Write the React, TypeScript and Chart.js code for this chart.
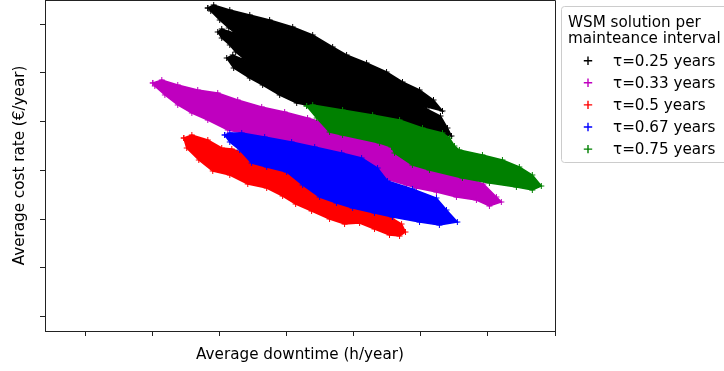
import { useEffect, useRef } from "react";
import { Chart, registerables } from "chart.js";

Chart.register(...registerables);

type Pt = [number, number];

// Axis limits and tick positions (downtime in h/year, cost rate in €/year)
const X_MIN = 1.97;
const X_MAX = 40;
const Y_MIN = 707;
const Y_MAX = 7492;
const xTickValues = [5, 10, 15, 20, 25, 30, 35, 40];
const yTickValues = [1000, 2000, 3000, 4000, 5000, 6000, 7000];

const legendTitle = ["WSM solution per", "mainteance interval"];
const seriesLabels = ["τ=0.25 years", "τ=0.33 years", "τ=0.5 years", "τ=0.67 years", "τ=0.75 years"];
const seriesColors = ["#000000", "#bf00bf", "#ff0000", "#0000ff", "#008000"];

// Outline of each cloud of WSM solutions: [downtime, cost rate]
const tau025: Pt[] = [
  [14.11, 7328], [14.55, 7390], [15.75, 7287], [17.24, 7185], [18.72, 7082], [20.44, 6939],
  [21.93, 6775], [23.42, 6529], [24.46, 6365], [25.95, 6201], [27.44, 6016], [28.63, 5811],
  [29.9, 5647], [30.94, 5442], [31.61, 5217], [30.19, 5319], [30.42, 5258], [31.46, 5114],
  [31.98, 4868], [32.28, 4704], [31.38, 4745], [29.9, 4868], [26.92, 5073], [23.94, 5237],
  [21.48, 5340], [20.74, 5381], [19.47, 5545], [18.2, 5750], [17.24, 5893], [16.04, 6098],
  [15.52, 6303], [15.97, 6365], [17.01, 6242], [16.19, 6426], [15.75, 6570], [15.15, 6713],
  [14.85, 6836], [15.15, 6898], [16.27, 6795], [15.67, 6918], [15.0, 7082], [14.33, 7267],
];

const tau033: Pt[] = [
  [10.01, 5791], [10.68, 5852], [11.87, 5750], [13.36, 5647], [14.85, 5586], [16.34, 5442],
  [18.13, 5299], [19.84, 5196], [21.55, 5073], [22.82, 4971], [25.43, 4786], [28.41, 4458],
  [31.38, 4007], [33.62, 3823], [34.66, 3720], [35.63, 3454], [36.0, 3351], [35.11, 3269],
  [34.14, 3392], [32.65, 3454], [31.16, 3556], [29.67, 3638], [28.93, 3700], [27.66, 3802],
  [26.17, 4007], [23.94, 4253], [20.96, 4479], [18.58, 4643], [17.09, 4745], [15.6, 4827],
  [14.11, 5032], [12.92, 5176], [11.87, 5340], [10.91, 5545], [10.16, 5729],
];

const tau050: Pt[] = [
  [12.32, 4663], [12.92, 4725], [14.11, 4622], [15.15, 4458], [15.9, 4438], [17.24, 4315],
  [19.47, 4048], [21.7, 3700], [23.94, 3392], [26.54, 3167], [27.81, 3023], [28.56, 2900],
  [28.85, 2736], [28.41, 2654], [27.66, 2675], [26.54, 2798], [25.43, 2921], [24.31, 2900],
  [23.19, 3003], [21.85, 3167], [20.66, 3310], [19.69, 3474], [18.5, 3638], [17.09, 3720],
  [15.75, 3905], [14.48, 3987], [13.44, 4212], [12.54, 4458],
];

const tau067: Pt[] = [
  [15.37, 4725], [15.75, 4766], [16.64, 4766], [18.35, 4684], [20.36, 4581], [22.08, 4479],
  [24.09, 4356], [25.58, 4253], [26.77, 4048], [27.51, 3782], [29.37, 3618], [31.16, 3433],
  [31.91, 3187], [32.72, 2941], [31.38, 2880], [29.9, 2941], [27.88, 3044], [26.54, 3126],
  [24.91, 3228], [23.71, 3331], [22.45, 3454], [21.18, 3700], [19.99, 3966], [18.5, 4069],
  [17.38, 4151], [16.49, 4417], [15.75, 4581],
];

const tau075: Pt[] = [
  [21.48, 5319], [21.93, 5340], [24.16, 5237], [26.4, 5135], [28.41, 5032], [30.12, 4868],
  [31.61, 4766], [32.13, 4663], [32.5, 4499], [32.87, 4417], [34.59, 4315], [36.08, 4212],
  [37.34, 4069], [38.31, 3905], [38.98, 3679], [38.31, 3597], [37.12, 3659], [35.11, 3741],
  [33.1, 3843], [30.64, 4007], [29.37, 4110], [28.03, 4356], [27.81, 4479], [26.92, 4561],
  [24.16, 4725], [23.19, 4786], [22.23, 5073],
];

const clouds: Pt[][] = [tau025, tau033, tau050, tau067, tau075];

const FONT_FAMILY = "DejaVu Sans";
const FONT_SIZE = 15.2;
const AXIS_COLOR = "#222222";

// Top and right edges of the plot frame (left and bottom come from the axes)
const plotFrame = {
  id: "plotFrame",
  afterDatasetsDraw(chart: Chart) {
    const { ctx, chartArea } = chart;
    const l = Math.round(chartArea.left) + 0.5;
    const r = Math.round(chartArea.right) + 0.5;
    const t = Math.round(chartArea.top) + 0.5;
    const b = Math.round(chartArea.bottom) + 0.5;
    ctx.save();
    ctx.strokeStyle = AXIS_COLOR;
    ctx.lineWidth = 1;
    ctx.beginPath();
    ctx.moveTo(l, t);
    ctx.lineTo(r, t);
    ctx.lineTo(r, b);
    ctx.stroke();
    ctx.restore();
  },
};

// Framed legend with a two-line title, drawn inside the canvas to the right of the plot
const intervalLegend = {
  id: "intervalLegend",
  afterDraw(chart: Chart) {
    const ctx = chart.ctx;
    const left = chart.chartArea.right + 6.5;
    const top = 6.5;
    ctx.save();
    ctx.beginPath();
    ctx.roundRect(left, top, 180, 156, 3);
    ctx.fillStyle = "rgba(255,255,255,0.8)";
    ctx.fill();
    ctx.strokeStyle = "#cccccc";
    ctx.lineWidth = 1;
    ctx.stroke();

    ctx.font = `${FONT_SIZE}px "${FONT_FAMILY}"`;
    ctx.fillStyle = "#000000";
    ctx.textAlign = "left";
    ctx.textBaseline = "alphabetic";
    legendTitle.forEach((line, i) => ctx.fillText(line, left + 6.5, 26.7 + i * 16.2));

    chart.data.datasets.forEach((ds, i) => {
      const cy = 60.7 + i * 22.1;
      const cx = left + 26.5;
      ctx.strokeStyle = seriesColors[i];
      ctx.lineWidth = 1.4;
      ctx.beginPath();
      ctx.moveTo(cx - 4.2, cy);
      ctx.lineTo(cx + 4.2, cy);
      ctx.moveTo(cx, cy - 4.2);
      ctx.lineTo(cx, cy + 4.2);
      ctx.stroke();
      ctx.fillStyle = "#000000";
      ctx.fillText(String(ds.label), left + 51.5, cy + 5.2);
    });
    ctx.restore();
  },
};

export default function App() {
  const canvasRef = useRef<HTMLCanvasElement | null>(null);

  useEffect(() => {
    const canvas = canvasRef.current;
    if (!canvas) return;
    Chart.defaults.color = "#000000";

    const chart = new Chart(canvas, {
      type: "line",
      data: {
        datasets: clouds.map((pts, i) => ({
          label: seriesLabels[i],
          data: [...pts, pts[0]].map(([x, y]) => ({ x, y })),
          borderColor: seriesColors[i],
          backgroundColor: seriesColors[i],
          pointBorderColor: seriesColors[i],
          pointBackgroundColor: seriesColors[i],
          borderWidth: 1.5,
          pointStyle: "cross",
          pointRadius: 3,
          pointHoverRadius: 3,
          pointBorderWidth: 1,
          fill: "shape",
          tension: 0,
          order: clouds.length - i,
        })),
      },
      options: {
        responsive: false,
        animation: false,
        events: [],
        layout: { autoPadding: false, padding: { left: 0, right: 169, top: 0, bottom: 0 } },
        plugins: {
          legend: { display: false },
          tooltip: { enabled: false },
        },
        scales: {
          x: {
            type: "linear",
            position: "bottom",
            min: X_MIN,
            max: X_MAX,
            ticks: { display: false },
            afterBuildTicks: (s: any) => {
              s.ticks = xTickValues.map((value) => ({ value }));
            },
            grid: {
              display: true,
              drawOnChartArea: false,
              drawTicks: true,
              tickLength: 5,
              color: AXIS_COLOR,
              lineWidth: 1,
            },
            border: { display: true, color: AXIS_COLOR, width: 1 },
            title: {
              display: true,
              text: "Average downtime (h/year)",
              color: "#000000",
              font: { family: FONT_FAMILY, size: FONT_SIZE },
              padding: { top: 0, bottom: 6.9 },
            },
            afterFit: (s: any) => {
              s.height = 40;
            },
          },
          y: {
            type: "linear",
            position: "left",
            min: Y_MIN,
            max: Y_MAX,
            ticks: { display: false },
            afterBuildTicks: (s: any) => {
              s.ticks = yTickValues.map((value) => ({ value }));
            },
            grid: {
              display: true,
              drawOnChartArea: false,
              drawTicks: true,
              tickLength: 5,
              color: AXIS_COLOR,
              lineWidth: 1,
            },
            border: { display: true, color: AXIS_COLOR, width: 1 },
            title: {
              display: true,
              text: "Average cost rate (€/year)",
              color: "#000000",
              font: { family: FONT_FAMILY, size: FONT_SIZE },
              padding: { top: 10.9, bottom: 0 },
            },
            afterFit: (s: any) => {
              s.width = 45;
            },
          },
        },
      },
      plugins: [plotFrame, intervalLegend],
    });

    return () => chart.destroy();
  }, []);

  return (
    <div style={{ position: "fixed", left: 0, top: 0, width: 724, height: 371, background: "#ffffff" }}>
      <canvas ref={canvasRef} width={724} height={371} />
    </div>
  );
}
